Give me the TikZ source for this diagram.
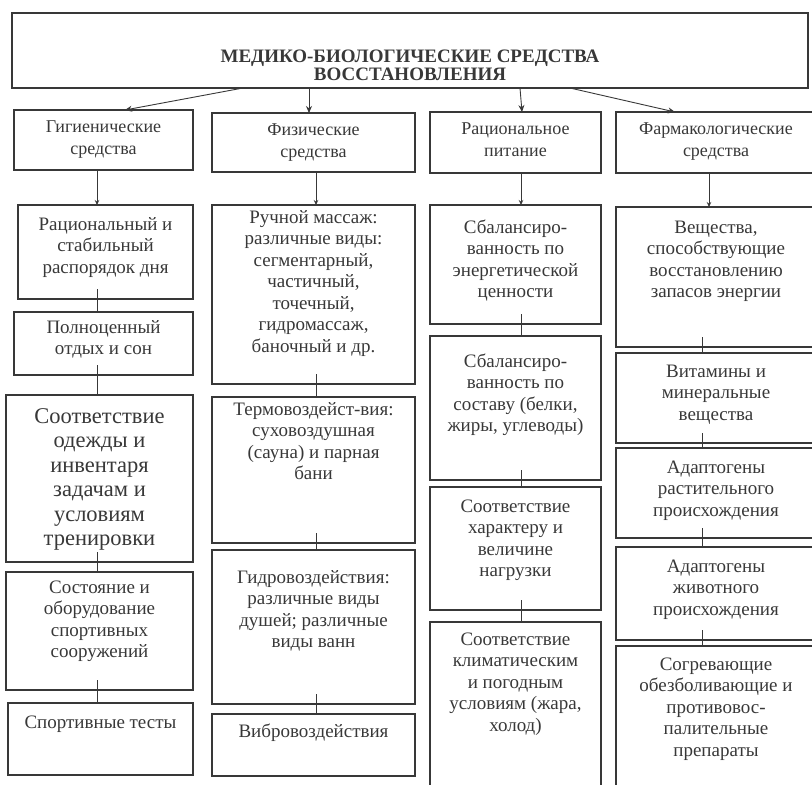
\documentclass[tikz,border=0pt]{standalone}
\usepackage{fontspec}
\setmainfont{Liberation Serif}
\usetikzlibrary{arrows.meta}

\definecolor{ink}{gray}{0.22}
\newcommand{\cellfont}{\fontsize{19}{21.5}\selectfont}
\newcommand{\catfont}{\fontsize{18}{22}\selectfont}
\newcommand{\largecellfont}{\fontsize{22.5}{24.5}\selectfont}
\newcommand{\headlinefont}{\bfseries\fontsize{19}{15}\selectfont}
% box of given width and height, text hung from the top
\newcommand{\cellbox}[4][10pt]{\parbox[c][#3][t]{#2}{\centering\vspace*{#1}\strut#4}}

\tikzset{
  cell/.style={draw=ink, line width=1.1pt, inner sep=0pt, outer sep=0pt,
    anchor=north west, text=ink, font=\cellfont},
  link/.style={draw=ink, line width=0.9pt},
  feed/.style={link, -{Stealth[length=7pt,width=6pt]}},
  drop/.style={link, -{Stealth[length=5pt,width=4.5pt]}}
}

\begin{document}
\begin{tikzpicture}[x=1pt,y=-1pt]
  \useasboundingbox (0,0) rectangle (812,785);

  % head
  \node[cell, font=\headlinefont] (top) at (12,13)
    {\cellbox[37pt]{796pt}{75pt}{МЕДИКО-БИОЛОГИЧЕСКИЕ СРЕДСТВА\\ВОССТАНОВЛЕНИЯ}};

  % four groups
  \node[cell, font=\catfont] (g1) at (14,110) {\cellbox[7pt]{179pt}{60pt}{Гигиенические\\средства}};
  \node[cell, font=\catfont] (g2) at (212,113) {\cellbox[7pt]{203pt}{59pt}{Физические\\средства}};
  \node[cell, font=\catfont] (g3) at (430,112) {\cellbox[7pt]{171pt}{61pt}{Рациональное\\питание}};
  \node[cell, font=\catfont] (g4) at (616,112) {\cellbox[7pt]{200pt}{61pt}{Фармакологические\\средства}};

  % hygiene
  \node[cell] (r1) at (18,205) {\cellbox[10pt]{175pt}{94pt}{Рациональный и\\стабильный\\распорядок дня}};
  \node[cell] (r2) at (14,312) {\cellbox[6pt]{179pt}{63pt}{Полноценный\\отдых и сон}};
  \node[cell, font=\largecellfont] (r3) at (6,395) {\cellbox[11pt]{187pt}{167pt}{Соответствие\\одежды и\\инвентаря\\задачам и\\условиям\\тренировки}};
  \node[cell] (r4) at (6,572) {\cellbox[6pt]{187pt}{118pt}{Состояние и\\оборудование\\спортивных\\сооружений}};
  \node[cell] (r5) at (8,703) {\cellbox[10pt]{185pt}{72pt}{Спортивные тесты}};

  % physical
  \node[cell] (m1) at (212,205) {\cellbox[3pt]{203pt}{179pt}{Ручной массаж:\\различные виды:\\сегментарный,\\частичный,\\точечный,\\гидромассаж,\\баночный и др.}};
  \node[cell] (m2) at (212,397) {\cellbox[3pt]{203pt}{146pt}{Термовоздейст-вия:\\суховоздушная\\(сауна) и парная\\бани}};
  \node[cell] (m3) at (212,550) {\cellbox[18pt]{203pt}{154pt}{Гидровоздействия:\\различные виды\\душей; различные\\виды ванн}};
  \node[cell] (m4) at (212,714) {\cellbox[8pt]{203pt}{62pt}{Вибровоздействия}};

  % nutrition
  \node[cell] (n1) at (430,205) {\cellbox[13pt]{171pt}{119pt}{Сбалансиро-\\ванность по\\энергетической\\ценности}};
  \node[cell] (n2) at (430,336) {\cellbox[16pt]{171pt}{144pt}{Сбалансиро-\\ванность по\\составу (белки,\\жиры, углеводы)}};
  \node[cell] (n3) at (430,487) {\cellbox[10pt]{171pt}{123pt}{Соответствие\\характеру и\\величине\\нагрузки}};
  \node[cell] (n4) at (430,622) {\cellbox[8pt]{171pt}{170pt}{Соответствие\\климатическим\\и погодным\\условиям (жара,\\холод)}};

  % pharmacology
  \node[cell] (p1) at (616,207) {\cellbox[11pt]{200pt}{140pt}{Вещества,\\способствующие\\восстановлению\\запасов энергии}};
  \node[cell] (p2) at (616,353) {\cellbox[9pt]{200pt}{90pt}{Витамины и\\минеральные\\вещества}};
  \node[cell] (p3) at (616,448) {\cellbox[10pt]{200pt}{90pt}{Адаптогены\\растительного\\происхождения}};
  \node[cell] (p4) at (616,547) {\cellbox[10pt]{200pt}{93pt}{Адаптогены\\животного\\происхождения}};
  \node[cell] (p5) at (616,646) {\cellbox[9pt]{200pt}{150pt}{Согревающие\\обезболивающие и\\противовос-\\палительные\\препараты}};

  % column lines
  \coordinate (k1) at (97,0);
  \coordinate (k2) at (316,0);
  \coordinate (k3) at (521,0);
  \coordinate (k4) at (702,0);

  \draw[feed] ([xshift=-167pt]top.south) -- ([xshift=21.5pt]g1.north);
  \draw[feed] ([xshift=-101pt]top.south) -- ([xshift=-4.5pt]g2.north);
  \draw[feed] ([xshift=110pt]top.south) -- ([xshift=6.5pt]g3.north);
  \draw[feed] ([xshift=160pt]top.south) -- ([xshift=-41pt]g4.north);

  \draw[drop] (g1.south -| k1) -- (r1.north -| k1);
  \draw[drop] (g2.south -| k2) -- (m1.north -| k2);
  \draw[drop] (g3.south -| k3) -- (n1.north -| k3);
  \draw[drop] ([xshift=-7pt]g4.south) -- ([xshift=-7pt]p1.north);

  \foreach \a/\b in {r1/r2, r2/r3, r3/r4, r4/r5}
    \draw[link] (\a.south -| k1) ++(0,-10) -- (\b.north -| k1);
  \foreach \a/\b in {m1/m2, m2/m3, m3/m4}
    \draw[link] (\a.south -| k2) ++(0,-10) -- (\b.north -| k2);
  \foreach \a/\b in {n1/n2, n2/n3, n3/n4}
    \draw[link] (\a.south -| k3) ++(0,-10) -- (\b.north -| k3);
  \foreach \a/\b in {p1/p2, p2/p3, p3/p4, p4/p5}
    \draw[link] (\a.south -| k4) ++(0,-10) -- (\b.north -| k4);
\end{tikzpicture}
\end{document}
